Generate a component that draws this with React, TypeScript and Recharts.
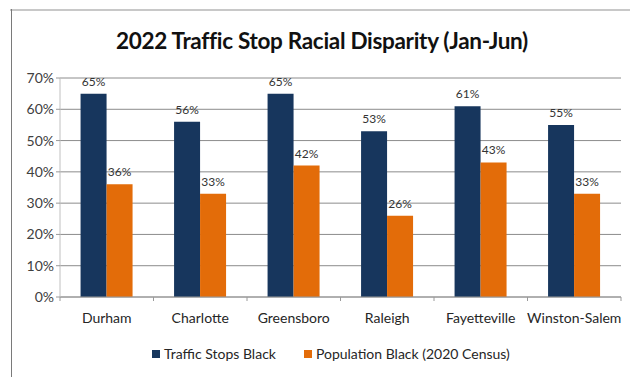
import React from 'react';
import { BarChart, Bar, XAxis, YAxis, CartesianGrid, LabelList } from 'recharts';

const cities = ['Durham', 'Charlotte', 'Greensboro', 'Raleigh', 'Fayetteville', 'Winston-Salem'];
const trafficStopsBlack = [65, 56, 65, 53, 61, 55];
const populationBlack = [36, 33, 42, 26, 43, 33];
const yTicks = [0, 10, 20, 30, 40, 50, 60, 70];
const seriesNames = ['Traffic Stops Black', 'Population Black (2020 Census)'];

const data = cities.map((c, i) => ({ city: c, stops: trafficStopsBlack[i], pop: populationBlack[i] }));

const NAVY = '#17365d';
const ORANGE = '#e36c09';
const FONT = 'Lato, "Open Sans", sans-serif';

const CHART_W = 630;
const CHART_H = 377;
const X_H = 30;
const M = { top: 78, right: 9, bottom: 80 - X_H, left: 0 };
const Y_W = 60;

const XTick = (props: any) => {
  const { x, y, payload } = props;
  const band = (CHART_W - M.left - M.right - Y_W) / cities.length;
  return (
    <g>
      <line x1={x - band / 2} x2={x - band / 2} y1={y - 8} y2={y - 4} stroke="#9a9a9a" />
      {payload.index === cities.length - 1 && (
        <line x1={x + band / 2} x2={x + band / 2} y1={y - 8} y2={y - 4} stroke="#9a9a9a" />
      )}
      <text x={x} y={y + 18} textAnchor="middle" fontFamily={FONT} fontSize={14} fill="#262626">
        {payload.value}
      </text>
    </g>
  );
};

export default function App() {
  return (
    <div style={{ position: 'absolute', left: 0, top: 0, width: CHART_W, height: CHART_H, background: '#fff', overflow: 'hidden' }}>
      <div style={{ position: 'absolute', left: 10, top: 9, width: 640, height: 2, background: '#c8c8c8' }} />
      <div style={{ position: 'absolute', left: 11, top: 9, width: 1, height: 380, background: '#7a7a7a' }} />
      <div
        style={{
          position: 'absolute', left: 0, top: 27, width: 644, textAlign: 'center',
          fontFamily: FONT, fontWeight: 700, fontSize: 22.5, color: '#111', letterSpacing: -0.3,
        }}
      >
        2022 Traffic Stop Racial Disparity (Jan-Jun)
      </div>
      <BarChart width={CHART_W} height={CHART_H} data={data} margin={M} barCategoryGap="22%" barGap={0}>
        <CartesianGrid vertical={false} stroke="#8c8c8c" />
        <XAxis dataKey="city" height={X_H} tick={<XTick />} tickLine={false} axisLine={{ stroke: '#9a9a9a' }} interval={0} />
        <YAxis
          width={Y_W}
          domain={[0, 70]}
          ticks={yTicks}
          tickFormatter={(v: number) => `${v}%`}
          tick={{ fontFamily: FONT, fontSize: 14, fill: '#404040' }}
          tickLine={{ stroke: '#9a9a9a' }}
          tickSize={4}
          axisLine={{ stroke: '#c0c0c0' }}
          interval={0}
        />
        <Bar dataKey="stops" name={seriesNames[0]} fill={NAVY} isAnimationActive={false}>
          <LabelList dataKey="stops" position="top" offset={8} formatter={(v: number) => `${v}%`} style={{ fontFamily: FONT, fontSize: 12, fill: '#333' }} />
        </Bar>
        <Bar dataKey="pop" name={seriesNames[1]} fill={ORANGE} isAnimationActive={false}>
          <LabelList dataKey="pop" position="top" offset={8} formatter={(v: number) => `${v}%`} style={{ fontFamily: FONT, fontSize: 12, fill: '#333' }} />
        </Bar>
      </BarChart>
      <div
        style={{
          position: 'absolute', left: 152, top: 345, display: 'flex',
          fontFamily: FONT, fontSize: 14, color: '#262626', lineHeight: '18px',
        }}
      >
        <span style={{ display: 'flex', alignItems: 'center', marginRight: 28 }}>
          <span style={{ width: 8, height: 8, background: NAVY, display: 'inline-block', marginRight: 4 }} />
          {seriesNames[0]}
        </span>
        <span style={{ display: 'flex', alignItems: 'center' }}>
          <span style={{ width: 8, height: 8, background: ORANGE, display: 'inline-block', marginRight: 4 }} />
          {seriesNames[1]}
        </span>
      </div>
    </div>
  );
}
